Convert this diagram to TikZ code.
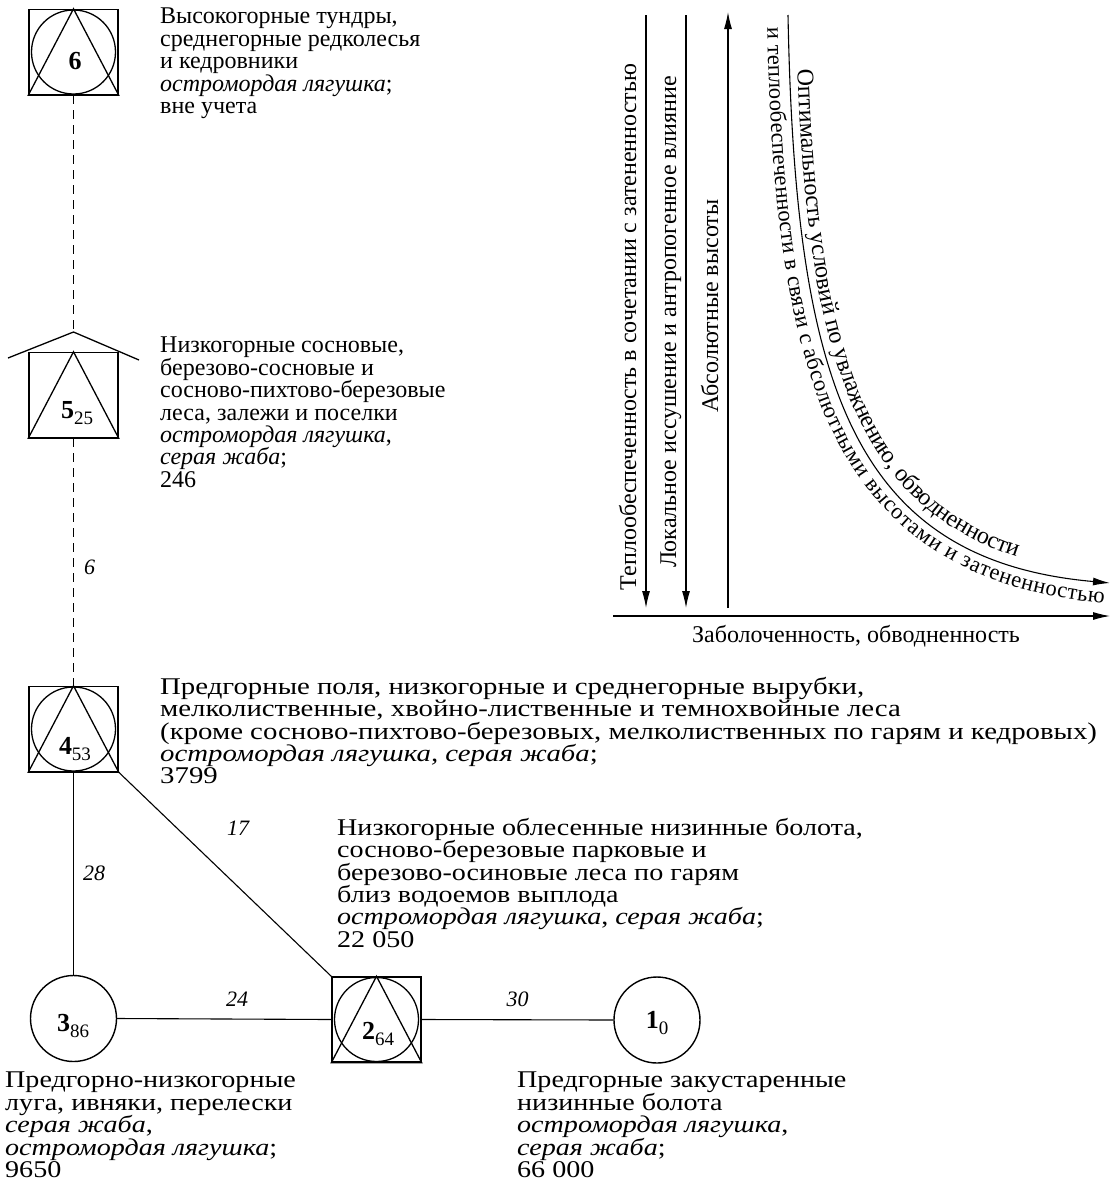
\documentclass[tikz,border=0pt]{standalone}
\usepackage{fontspec}
\setmainfont{Liberation Serif}
\newfontfamily\blockfont{Liberation Serif}[FakeStretch=1.17]
\newfontfamily\wideblockfont{Liberation Serif}[FakeStretch=1.2]
\usetikzlibrary{arrows.meta,decorations.text}

\newcommand\blocksize{\fontsize{24}{22.4}\selectfont\lineskiplimit=-20pt}
\newcommand\axsize{\fontsize{24}{26}\selectfont}
\newcommand\zoneidx[2]{\textbf{#1}\raisebox{-6pt}{\fontsize{19}{19}\selectfont #2}}

\begin{document}
\begin{tikzpicture}[x=1pt,y=-1pt,
  habitat/.style={draw, rectangle, minimum width=89pt, minimum height=85pt, inner sep=0pt, line width=1.4pt},
  pond/.style={draw, circle, minimum size=86pt, inner sep=0pt, line width=1.4pt},
  inner/.style={line width=1.3pt},
  desc/.style={anchor=north west, align=left, inner sep=0pt, font=\blockfont\blocksize},
  narrowdesc/.style={desc, font=\rmfamily\blocksize},
  widedesc/.style={desc, font=\wideblockfont\blocksize},
  idx/.style={anchor=base, inner sep=0pt, font=\fontsize{26}{26}\selectfont},
  elab/.style={inner sep=0pt, font=\itshape\fontsize{22}{22}\selectfont},
  link/.style={line width=1.1pt},
  trail/.style={link, dash pattern=on 9pt off 6pt},
  axis/.style={line width=1.1pt, -{Latex[length=17pt,width=8pt]}},
  axlab/.style={inner sep=0pt, font=\axsize}
]
\useasboundingbox (0,0) rectangle (1114,1202);

% ---------- habitat zones ----------
\node[habitat] (n6) at (73.5,52) {};
\draw[inner] (n6.center) circle[radius=42];
\draw[inner] (n6.north) -- (n6.south west) -- (n6.south east) -- cycle;
\node[idx] (k6) at (75,69) {\textbf{6}};

\node[habitat] (n5) at (73.5,395) {};
\draw[inner] (n5.north) -- (n5.south west) -- (n5.south east) -- cycle;
\coordinate (roof) at (73.5,332);
\coordinate (eaveL) at (8,358);
\coordinate (eaveR) at (139,360);
\draw[inner] (eaveL) -- (roof) -- (eaveR);
\node[idx] (k5) at (77,418) {\zoneidx{5}{25}};

\node[habitat] (n4) at (73.5,729) {};
\draw[inner] (n4.center) circle[radius=42];
\draw[inner] (n4.north) -- (n4.south west) -- (n4.south east) -- cycle;
\node[idx] (k4) at (75,754) {\zoneidx{4}{53}};

\node[habitat] (n2) at (376.5,1019.5) {};
\draw[inner] (n2.center) circle[radius=42];
\draw[inner] (n2.north) -- (n2.south west) -- (n2.south east) -- cycle;
\node[idx] (k2) at (378,1039) {\zoneidx{2}{64}};

\node[pond] (n3) at (73.5,1018.5) {};
\node[idx] (k3) at (73,1031) {\zoneidx{3}{86}};

\node[pond] (n1) at (657,1020) {};
\node[idx] (k1) at (657,1028) {\zoneidx{1}{0}};

% ---------- links between zones ----------
\draw[trail] (n6.south) -- (roof);
\draw[trail] (n5.south) -- node[elab, pos=0.52, anchor=west, xshift=10pt] (e54) {6} (n4.north);
\draw[link] (n4.south) -- node[elab, pos=0.5, anchor=west, xshift=9pt] (e43) {28} (n3.north);
\draw[link] (n4.south east) -- node[elab, pos=0.43, xshift=28pt, yshift=32pt] (e42) {17} (n2.north west);
\draw[link] (n3.east) -- node[elab, pos=0.56, anchor=south, yshift=12pt] (e32) {24} (n2.west);
\draw[link] (n2.east) -- node[elab, pos=0.5, anchor=south, yshift=12pt] (e21) {30} (n1.west);

% ---------- descriptions ----------
\node[narrowdesc] (t6) at (160,8) {Высокогорные тундры,\\среднегорные редколесья\\и кедровники\\\textit{остромордая лягушка};\\вне учета};
\node[narrowdesc] (t5) at (160,337) {Низкогорные сосновые,\\березово-сосновые и\\сосново-пихтово-березовые\\леса, залежи и поселки\\\textit{остромордая лягушка},\\\textit{серая жаба};\\246};
\node[widedesc] (t4) at (160,677) {Предгорные поля, низкогорные и среднегорные вырубки,\\мелколиственные, хвойно-лиственные и темнохвойные леса\\(кроме сосново-пихтово-березовых, мелколиственных по гарям и кедровых)\\\textit{остромордая лягушка, серая жаба};\\3799};
\node[desc] (t2) at (337,818) {Низкогорные облесенные низинные болота,\\сосново-березовые парковые и\\березово-осиновые леса по гарям\\близ водоемов выплода\\\textit{остромордая лягушка}, \textit{серая жаба};\\22 050};
\node[desc] (t3) at (5,1072) {Предгорно-низкогорные\\луга, ивняки, перелески\\\textit{серая жаба},\\\textit{остромордая лягушка};\\9650};
\node[desc] (t1) at (517,1072) {Предгорные закустаренные\\низинные болота\\\textit{остромордая лягушка},\\\textit{серая жаба};\\66 000};

% ---------- factor scheme ----------
\coordinate (a1top) at (646,15);  \coordinate (a1bot) at (646,608);
\coordinate (a2top) at (686,15);  \coordinate (a2bot) at (686,608);
\coordinate (a3top) at (728,12);  \coordinate (a3bot) at (728,608);
\coordinate (hx0) at (613,616);   \coordinate (hx1) at (1110,616);
\coordinate (c0) at (788,15);
\coordinate (c1) at (795,380);
\coordinate (c2) at (850,560);
\coordinate (c3) at (1110,583);

\draw[axis] (a1top) -- (a1bot);
\draw[axis] (a2top) -- (a2bot);
\draw[axis] (a3bot) -- (a3top);
\draw[axis] (hx0) -- (hx1);
\draw[axis] (c0) .. controls (c1) and (c2) .. (c3);

\node[axlab, rotate=90, anchor=base] (f1) at (636,327) {Теплообеспеченность в сочетании с затененностью};
\node[axlab, rotate=90, anchor=base] (f2) at (676,322) {Локальное иссушение и антропогенное влияние};
\node[axlab, rotate=90, anchor=base] (f3) at (718,306) {Абсолютные высоты};
\node[axlab, anchor=base] (f4) at (856,642) {Заболоченность, обводненность};

\path[decorate, decoration={text along path, raise=8pt,
    text align={left indent=55pt},
    text={|\fontsize{24}{26}\selectfont|Оптимальность условий по увлажнению, обводненности}}]
  (c0) .. controls (c1) and (c2) .. (c3);
\path[decorate, decoration={text along path, raise=-21pt,
    text align={left indent=12pt},
    text={|\fontsize{22.5}{24}\selectfont|и теплообеспеченности в связи с абсолютными высотами и затененностью}}]
  (c0) .. controls (c1) and (c2) .. (c3);

\end{tikzpicture}
\end{document}
